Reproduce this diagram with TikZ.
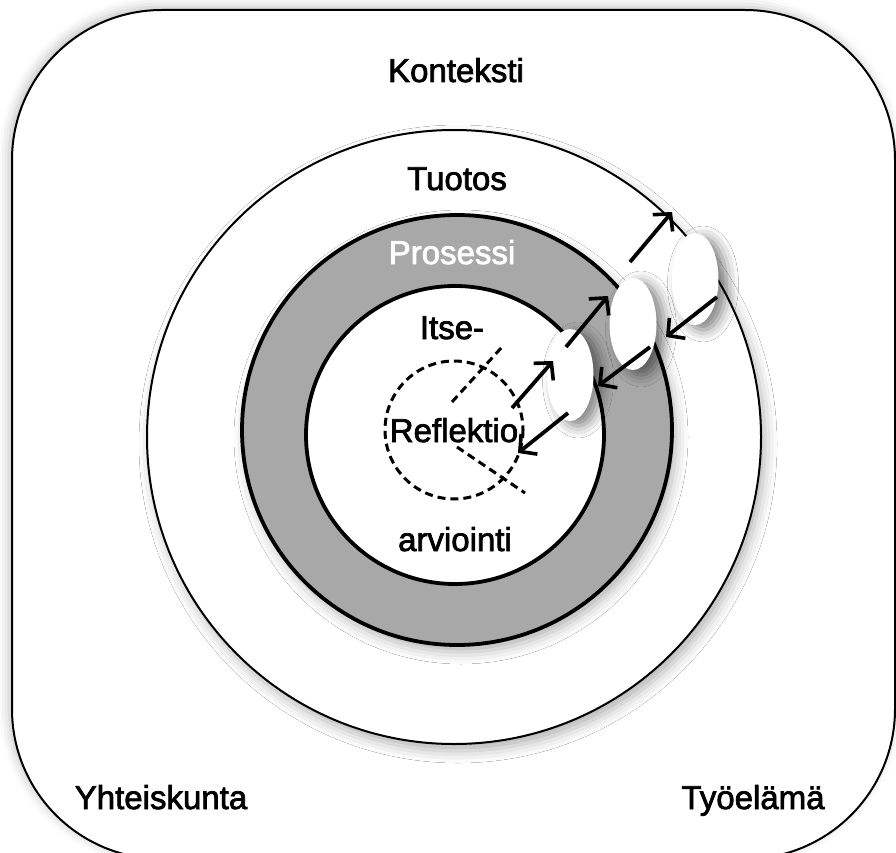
\documentclass[tikz,border=0pt]{standalone}
\usepackage{fontspec}
\setmainfont{Liberation Sans}
\newfontfamily\lblfont{Liberation Sans}[FakeBold=2.2]
\usetikzlibrary{arrows.meta,shapes.geometric,shadows.blur}
\definecolor{ringgray}{RGB}{168,168,168}
\tikzset{
  lbl/.style={font=\lblfont\fontsize{33}{36}\selectfont, inner sep=0pt, anchor=base},
  glow/.style={blur shadow={shadow xshift=4pt, shadow yshift=-7pt, shadow blur radius=12pt, shadow opacity=30}},
  bubble/.style={ellipse, draw=none, fill=white, minimum width=47pt, minimum height=92pt, inner sep=0pt,
     blur shadow={shadow xshift=8pt, shadow yshift=-5pt, shadow blur radius=12pt, shadow opacity=50}},
  arr/.style={line width=3.8pt, -{Straight Barb[length=12pt,width=26pt,line width=3.6pt]}},
  dsh/.style={line width=3pt, dash pattern=on 8pt off 5pt}
}
\begin{document}
\begin{tikzpicture}[x=1pt,y=-1pt]
\useasboundingbox (0,0) rectangle (896,853);
% outer rounded shape
\begin{scope}
\clip (0,0) rectangle (896,853);
\path[blur shadow={shadow xshift=-3pt, shadow yshift=3pt, shadow blur radius=10pt, shadow opacity=25},
  fill=white, draw=black, line width=2pt, rounded corners=150pt] (12,10) rectangle (895,859);
\end{scope}
% Tuotos circle
\path[glow, fill=white, draw=black, line width=2pt] (454,437) circle[radius=307];
% gray ring
\path[glow, fill=ringgray, draw=black, line width=3.8pt] (457,430) circle[radius=215];
\path[fill=white, draw=black, line width=3.8pt] (455,435) circle[radius=149];
% dashed circle and lines
\draw[dsh] (454,430) circle[radius=69];
\coordinate (d1a) at (452,402);
\coordinate (d1b) at (502,347);
\coordinate (d2a) at (457,447);
\coordinate (d2b) at (525,493);
\draw[dsh] (d1a) -- (d1b);
\draw[dsh] (d2a) -- (d2b);
% labels
\node[lbl] (kontexti) at (456,82) {Konteksti};
\node[lbl] (tuotos) at (457,190) {Tuotos};
\node[lbl, text=white] (prosessi) at (452,264) {Prosessi};
\node[lbl] (itse) at (452,339) {Itse-};
\node[lbl] (refl) at (454,442) {Reflektio};
\node[lbl] (arv) at (455,551) {arviointi};
\node[lbl] (yht) at (161,809) {Yhteiskunta};
\node[lbl] (tyo) at (753,809) {Työelämä};
% bubbles
\node[bubble] (e1) at (570,375) {};
\node[bubble] (e2) at (633,324) {};
\node[bubble] (e3) at (695,279) {};
% arrows
\coordinate (a1s) at (512,408); \coordinate (a1e) at (553,361);
\coordinate (a2s) at (568,413); \coordinate (a2e) at (518,453);
\coordinate (a3s) at (566,347); \coordinate (a3e) at (608,296);
\coordinate (a4s) at (650,347); \coordinate (a4e) at (598,386);
\coordinate (a5s) at (630,262); \coordinate (a5e) at (672,212);
\coordinate (a6s) at (717,297); \coordinate (a6e) at (666,337);
\draw[arr] (a1s) -- (a1e);
\draw[arr] (a2s) -- (a2e);
\draw[arr] (a3s) -- (a3e);
\draw[arr] (a4s) -- (a4e);
\draw[arr] (a5s) -- (a5e);
\draw[arr] (a6s) -- (a6e);
\end{tikzpicture}
\end{document}
